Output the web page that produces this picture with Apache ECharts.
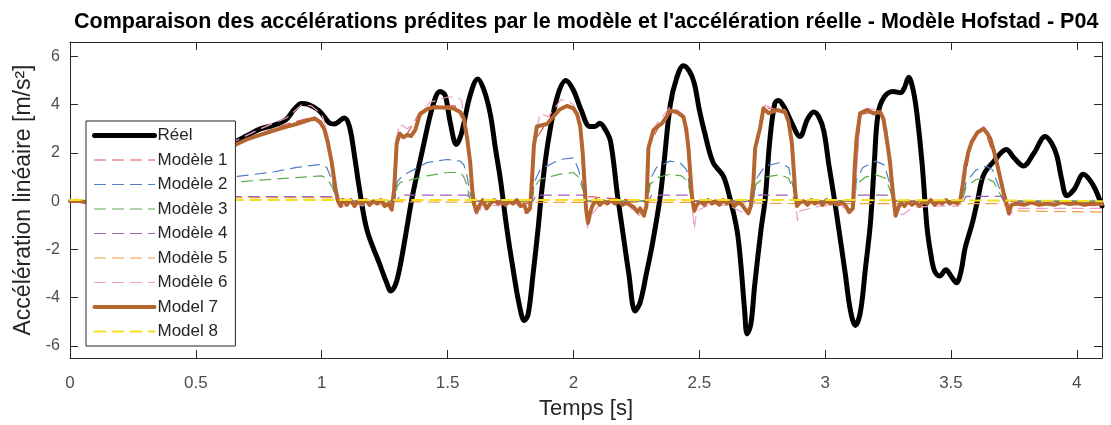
<!DOCTYPE html>
<html>
<head>
<meta charset="utf-8">
<script src="https://cdn.jsdelivr.net/npm/echarts@6/dist/echarts.min.js"></script>
<style>
  html, body { margin: 0; padding: 0; background: #fff; }
  #chart { width: 1111px; height: 425px; }
</style>
</head>
<body>
<div id="chart"></div>
<script>
// Time axis ticks (s) and acceleration axis ticks (m/s²)
const xTicks = [0, 0.5, 1, 1.5, 2, 2.5, 3, 3.5, 4];
const yTicks = [-6, -4, -2, 0, 2, 4, 6];

const seriesNames = ['Réel', 'Modèle 1', 'Modèle 2', 'Modèle 3', 'Modèle 4', 'Modèle 5', 'Modèle 6', 'Model 7', 'Model 8'];

// Measured acceleration [t, a]
const reel = [
  [0.08, 1.8], [0.2, 2.0], [0.35, 2.2], [0.5, 2.35], [0.6, 2.42], [0.657, 2.48], [0.70, 2.7], [0.756, 3.0],
  [0.81, 3.15], [0.86, 3.4], [0.89, 3.8], [0.92, 4.05], [0.95, 4.0], [0.99, 3.75], [1.03, 3.25], [1.05, 3.2],
  [1.09, 3.45], [1.11, 3.1], [1.13, 1.9], [1.15, 0.5], [1.18, -1.2], [1.23, -2.6], [1.255, -3.3], [1.275, -3.72],
  [1.295, -3.4], [1.315, -2.5], [1.34, -1.0], [1.36, 0.2], [1.40, 2.1], [1.44, 3.9], [1.47, 4.55], [1.49, 4.4],
  [1.51, 3.3], [1.535, 2.35], [1.555, 2.8], [1.59, 4.4], [1.62, 5.07], [1.645, 4.6], [1.67, 3.6], [1.69, 2.2],
  [1.71, 0.9], [1.735, -1.1], [1.76, -2.8], [1.785, -4.3], [1.805, -4.95], [1.82, -4.7], [1.84, -3.0], [1.86, -1.1],
  [1.875, 0.5], [1.90, 2.5], [1.935, 4.3], [1.97, 5.0], [2.0, 4.6], [2.03, 3.8], [2.065, 3.1], [2.085, 3.1],
  [2.105, 3.23], [2.125, 3.0], [2.147, 2.5], [2.175, 0.25], [2.195, -1.2], [2.22, -3.0], [2.245, -4.55], [2.265, -4.2],
  [2.29, -3.0], [2.315, -1.7], [2.345, 0.2], [2.36, 1.6], [2.385, 4.0], [2.41, 5.1], [2.437, 5.62], [2.46, 5.4],
  [2.48, 4.9], [2.50, 3.8], [2.52, 2.9], [2.555, 1.6], [2.595, 1.05], [2.62, 0.2], [2.65, -1.2], [2.665, -2.6],
  [2.68, -4.5], [2.69, -5.5], [2.705, -5.1], [2.72, -3.5], [2.745, -1.2], [2.762, 0.1], [2.78, 2.5], [2.80, 4.05],
  [2.815, 4.18], [2.84, 3.85], [2.865, 3.3], [2.90, 2.68], [2.93, 3.4], [2.955, 3.7], [2.975, 3.5], [2.995, 2.9],
  [3.015, 1.5], [3.035, 0.2], [3.055, -1.2], [3.08, -3.0], [3.10, -4.5], [3.12, -5.15], [3.14, -4.6], [3.16, -2.8],
  [3.18, -0.9], [3.195, 1.5], [3.21, 3.6], [3.235, 4.32], [3.27, 4.55], [3.30, 4.5], [3.315, 4.7], [3.332, 5.14],
  [3.35, 4.6], [3.365, 3.6], [3.385, 1.6], [3.405, -1.1], [3.42, -2.2], [3.435, -2.9], [3.455, -3.1], [3.48, -2.84],
  [3.50, -3.1], [3.522, -3.38], [3.54, -2.9], [3.556, -1.95], [3.585, -0.9], [3.605, 0.0], [3.63, 1.1], [3.67, 1.65],
  [3.72, 2.14], [3.75, 1.8], [3.788, 1.46], [3.83, 2.0], [3.874, 2.68], [3.90, 2.4], [3.921, 1.87], [3.94, 0.9],
  [3.96, 0.23], [3.99, 0.5], [4.026, 1.12], [4.05, 0.9], [4.073, 0.5], [4.1, -0.2]
];

const model1 = [
  [0, 0], [0.08, 0], [0.10, 1.8], [0.657, 2.4], [0.86, 3.2], [0.97, 3.5], [1.0, 3.3], [1.04, 1.6], [1.06, 0.1],
  [1.28, -0.1], [1.30, 2.5], [1.34, 2.8], [1.39, 3.7], [1.45, 3.95], [1.53, 3.95], [1.565, 3.5], [1.59, 1.5],
  [1.605, 0], [1.83, -0.1], [1.845, 2.5], [1.89, 3.2], [1.975, 4.0], [2.0, 3.9], [2.03, 3.0], [2.05, 0.2],
  [2.29, 0], [2.30, 2.3], [2.35, 3.3], [2.39, 3.8], [2.43, 3.6], [2.46, 2.2], [2.475, 0], [2.71, 0], [2.725, 2.3],
  [2.755, 3.9], [2.84, 3.75], [2.87, 2.4], [2.885, 0], [3.115, 0], [3.14, 3.6], [3.22, 3.75], [3.26, 1.6],
  [3.275, 0], [3.54, 0], [3.58, 2.4], [3.63, 3.05], [3.68, 1.6], [3.72, 0], [4.1, -0.2]
];

const model2 = [
  [0, 0], [0.08, 0], [0.10, 0.7], [0.3, 0.85], [0.5, 0.95], [0.657, 1.02], [0.8, 1.2], [0.9, 1.4], [1.0, 1.53],
  [1.02, 1.4], [1.04, 0.9], [1.055, 0.2], [1.065, 0.0], [1.29, 0.0], [1.30, 0.8], [1.32, 1.05], [1.365, 1.3],
  [1.418, 1.6], [1.497, 1.73], [1.55, 1.66], [1.565, 1.5], [1.577, 1.05], [1.59, 0.3], [1.60, 0], [1.835, 0],
  [1.845, 0.8], [1.868, 1.32], [1.947, 1.73], [2.0, 1.8], [2.02, 1.32], [2.04, 0.5], [2.05, 0], [2.295, 0],
  [2.305, 0.9], [2.33, 1.4], [2.384, 1.66], [2.424, 1.6], [2.45, 1.3], [2.465, 0.4], [2.47, 0], [2.715, 0],
  [2.725, 0.9], [2.76, 1.45], [2.82, 1.6], [2.855, 1.4], [2.875, 0.5], [2.885, 0], [3.115, 0], [3.125, 0.9],
  [3.15, 1.4], [3.2, 1.66], [3.235, 1.5], [3.255, 0.8], [3.27, 0], [3.545, 0], [3.56, 0.8], [3.60, 1.3],
  [3.64, 1.45], [3.665, 1.3], [3.69, 0.6], [3.71, 0], [4.1, 0]
];

const model3 = [
  [0, 0], [0.08, 0], [0.10, 0.5], [0.657, 0.79], [0.85, 0.95], [1.0, 1.05], [1.025, 0.9], [1.045, 0.5], [1.06, 0],
  [1.29, 0], [1.30, 0.6], [1.312, 0.78], [1.418, 1.05], [1.5, 1.19], [1.55, 1.19], [1.565, 1.0], [1.577, 0.64],
  [1.59, 0], [1.835, 0], [1.845, 0.6], [1.868, 0.91], [1.947, 1.12], [2.0, 1.19], [2.02, 1.0], [2.04, 0.4],
  [2.05, 0], [2.295, 0], [2.305, 0.7], [2.34, 1.0], [2.384, 1.12], [2.43, 1.05], [2.455, 0.8], [2.47, 0],
  [2.715, 0], [2.725, 0.7], [2.76, 1.0], [2.82, 1.1], [2.855, 0.95], [2.875, 0.4], [2.885, 0], [3.115, 0],
  [3.125, 0.7], [3.16, 1.0], [3.2, 1.1], [3.24, 0.95], [3.26, 0.4], [3.27, 0], [3.545, 0], [3.56, 0.6],
  [3.60, 0.9], [3.64, 0.95], [3.67, 0.8], [3.69, 0.4], [3.71, 0], [4.1, 0]
];

const model4 = [
  [0, 0], [0.08, 0], [0.10, 0.19], [1.04, 0.19], [1.06, 0], [1.30, 0], [1.31, 0.25], [1.58, 0.25], [1.59, 0],
  [1.84, 0], [1.85, 0.25], [2.04, 0.25], [2.05, 0], [2.30, 0], [2.31, 0.25], [2.46, 0.25], [2.47, 0],
  [2.72, 0], [2.73, 0.25], [2.87, 0.25], [2.88, 0], [3.12, 0], [3.13, 0.25], [3.26, 0.25], [3.27, 0],
  [3.55, 0], [3.56, 0.2], [3.70, 0.2], [3.71, 0], [4.1, -0.05]
];

const model5 = [
  [0, 0.03], [0.08, 0.03], [0.10, 0.15], [1.04, 0.15], [1.06, 0.0], [1.6, -0.05], [2.05, -0.05], [2.5, -0.05],
  [2.9, -0.1], [3.3, -0.1], [3.71, -0.1], [3.73, -0.4], [3.9, -0.42], [4.1, -0.45]
];

const model6 = [
  [0, 0], [0.08, 0], [0.10, 1.8], [0.657, 2.5], [0.756, 3.0], [0.86, 3.45], [0.92, 4.0], [0.96, 3.95], [1.0, 3.6],
  [1.02, 3.0], [1.04, 1.7], [1.06, 0.2], [1.08, -0.25], [1.12, 0.0], [1.16, -0.2], [1.2, 0.0], [1.24, -0.2],
  [1.28, -0.2], [1.295, 2.6], [1.31, 3.2], [1.34, 3.0], [1.39, 3.57], [1.43, 4.1], [1.50, 4.32], [1.54, 4.32],
  [1.555, 4.18], [1.57, 3.2], [1.59, 1.5], [1.605, -0.2], [1.62, -0.6], [1.64, -0.1], [1.7, -0.2], [1.76, 0.0],
  [1.81, -0.5], [1.83, -0.3], [1.845, 2.6], [1.868, 3.64], [1.9, 3.5], [1.95, 4.2], [1.975, 4.2], [2.0, 4.0],
  [2.03, 3.1], [2.045, 0.5], [2.055, -1.1], [2.07, -0.6], [2.1, -0.2], [2.16, 0.0], [2.22, -0.2], [2.26, -0.6],
  [2.29, -0.3], [2.30, 2.4], [2.33, 3.2], [2.384, 3.9], [2.41, 3.8], [2.44, 3.55], [2.46, 2.3], [2.472, -0.2],
  [2.48, -1.15], [2.49, -0.4], [2.55, -0.1], [2.62, -0.2], [2.69, -0.55], [2.71, -0.2], [2.725, 2.4],
  [2.762, 3.98], [2.8, 3.8], [2.84, 3.8], [2.866, 2.5], [2.882, 0.2], [2.89, -0.8], [2.9, -0.4], [2.98, -0.2],
  [3.06, -0.15], [3.1, -0.5], [3.115, -0.3], [3.14, 3.7], [3.17, 3.85], [3.22, 3.75], [3.245, 3.0],
  [3.265, 1.0], [3.28, -0.5], [3.31, -0.55], [3.35, -0.25], [3.45, -0.2], [3.53, -0.2], [3.55, 0.8],
  [3.58, 2.5], [3.63, 3.1], [3.66, 2.7], [3.69, 1.3], [3.715, -0.1], [3.73, -0.6], [3.76, -0.3], [3.9, -0.3],
  [4.1, -0.3]
];

const model7 = [
  [0, 0.0], [0.03, 0.02], [0.06, -0.03], [0.075, 0.0], [0.09, 0.8], [0.11, 1.7], [0.2, 1.9], [0.35, 2.05],
  [0.5, 2.2], [0.6, 2.28], [0.657, 2.34], [0.70, 2.55], [0.756, 2.75], [0.80, 2.9], [0.862, 3.09], [0.90, 3.2],
  [0.93, 3.3], [0.96, 3.4], [0.975, 3.42], [0.995, 3.25], [1.01, 3.0], [1.025, 2.4], [1.04, 1.6], [1.055, 0.5],
  [1.065, 0.0], [1.075, -0.2], [1.085, 0.05], [1.10, -0.15], [1.115, 0.05], [1.13, -0.2], [1.145, 0.0],
  [1.16, -0.1], [1.175, 0.05], [1.19, -0.15], [1.205, 0.0], [1.22, -0.1], [1.235, 0.05], [1.25, -0.2],
  [1.265, -0.1], [1.278, -0.35], [1.288, 0.5], [1.298, 2.4], [1.31, 2.8], [1.325, 2.65], [1.34, 2.75],
  [1.355, 2.7], [1.372, 2.96], [1.39, 3.6], [1.415, 3.8], [1.444, 3.9], [1.48, 3.88], [1.524, 3.84], [1.55, 3.7],
  [1.565, 3.4], [1.578, 2.6], [1.59, 1.6], [1.598, 0.5], [1.605, -0.1], [1.615, -0.45], [1.625, -0.2],
  [1.64, 0.05], [1.655, -0.3], [1.67, -0.1], [1.685, 0.05], [1.70, -0.1], [1.715, 0.0], [1.73, -0.15],
  [1.745, 0.0], [1.76, -0.1], [1.775, 0.05], [1.79, -0.2], [1.805, -0.15], [1.815, -0.45], [1.828, -0.3],
  [1.836, 1.0], [1.843, 2.3], [1.855, 3.1], [1.875, 3.15], [1.895, 3.2], [1.92, 3.5], [1.945, 3.8], [1.974, 3.95],
  [2.0, 3.85], [2.015, 3.6], [2.027, 3.1], [2.037, 2.0], [2.045, 0.6], [2.05, -0.3], [2.058, -0.9], [2.066, -0.5],
  [2.075, -0.2], [2.09, 0.05], [2.105, -0.15], [2.12, 0.0], [2.135, -0.1], [2.15, 0.05], [2.165, -0.1],
  [2.18, 0.0], [2.195, -0.15], [2.21, -0.05], [2.225, -0.15], [2.24, -0.25], [2.255, -0.45], [2.265, -0.3],
  [2.28, -0.6], [2.29, -0.2], [2.298, 2.2], [2.318, 2.95], [2.335, 3.1], [2.352, 3.23], [2.37, 3.5],
  [2.384, 3.75], [2.41, 3.7], [2.437, 3.5], [2.448, 3.0], [2.457, 2.2], [2.466, 0.9], [2.471, 0.2], [2.48, -0.4],
  [2.49, -0.15], [2.505, 0.0], [2.52, -0.15], [2.535, 0.05], [2.55, -0.1], [2.565, 0.0], [2.58, -0.15],
  [2.595, 0.05], [2.61, -0.1], [2.625, 0.0], [2.64, -0.2], [2.655, -0.05], [2.67, -0.15], [2.68, -0.3],
  [2.695, -0.5], [2.705, -0.2], [2.715, 0.8], [2.722, 2.2], [2.742, 3.05], [2.755, 3.85], [2.775, 3.65],
  [2.808, 3.78], [2.841, 3.7], [2.855, 3.3], [2.868, 2.4], [2.876, 1.2], [2.881, 0.4], [2.888, -0.2],
  [2.90, -0.05], [2.915, 0.0], [2.93, -0.15], [2.945, 0.05], [2.96, -0.1], [2.975, 0.0], [2.99, -0.15],
  [3.005, 0.05], [3.02, -0.1], [3.035, 0.0], [3.05, -0.15], [3.065, -0.05], [3.08, -0.15], [3.095, -0.45],
  [3.11, -0.3], [3.118, 1.5], [3.125, 2.6], [3.139, 3.64], [3.166, 3.78], [3.192, 3.64], [3.219, 3.7],
  [3.232, 3.4], [3.239, 2.96], [3.25, 2.2], [3.258, 1.6], [3.265, 0.8], [3.272, 0.1], [3.28, -0.6], [3.29, -0.3],
  [3.30, -0.05], [3.315, -0.2], [3.33, 0.0], [3.345, -0.15], [3.36, -0.05], [3.375, -0.2], [3.39, 0.0],
  [3.405, -0.1], [3.42, 0.05], [3.435, -0.15], [3.45, 0.0], [3.465, -0.1], [3.48, 0.05], [3.495, -0.1],
  [3.51, 0.0], [3.525, -0.1], [3.537, 0.05], [3.547, 0.7], [3.556, 1.4], [3.568, 2.0], [3.582, 2.45],
  [3.605, 2.85], [3.629, 3.0], [3.645, 2.8], [3.656, 2.6], [3.67, 2.1], [3.682, 1.6], [3.695, 1.0],
  [3.709, 0.35], [3.72, -0.05], [3.73, -0.5], [3.74, -0.15], [3.76, -0.1], [3.79, -0.15], [3.82, -0.05],
  [3.85, -0.15], [3.88, -0.1], [3.91, -0.15], [3.94, -0.05], [3.97, -0.12], [4.0, -0.08], [4.03, -0.15],
  [4.06, -0.1], [4.1, -0.12]
];

const model8 = [
  [0, 0.05], [1.0, 0.05], [2.0, 0.05], [3.0, 0.05], [3.72, 0.03], [4.1, 0.0]
];

const seriesData = [reel, model1, model2, model3, model4, model5, model6, model7, model8];
const colors = ['#000000', '#D9534F', '#4F7FC0', '#5DAA4A', '#9A62B0', '#F0A040', '#EE9CCB', '#B5652F', '#F5E01E'];
const widths = [5, 1.2, 1.2, 1.2, 1.2, 1.2, 1.2, 4, 2];
const dashed = [false, true, true, true, true, true, true, false, true];

const chart = echarts.init(document.getElementById('chart'), null, { renderer: 'canvas' });

const font = 'Liberation Sans, Arial, Helvetica, sans-serif';
const axisColor = '#262626';

const series = seriesNames.map((name, i) => ({
  name: name,
  type: 'line',
  data: seriesData[i],
  xAxisIndex: 0,
  yAxisIndex: 0,
  showSymbol: false,
  symbol: 'none',
  smooth: i === 0 ? 0.35 : false,
  animation: false,
  lineStyle: {
    color: colors[i],
    width: widths[i],
    type: dashed[i] ? [11, 7] : 'solid',
    cap: 'round',
    join: 'round'
  },
  itemStyle: { color: colors[i] },
  z: 2 + i
}));

const xMin = xTicks[0], xMax = 4.1;
const yMin = -6.5, yMax = 6.6;

const option = {
  animation: false,
  backgroundColor: '#ffffff',
  title: {
    text: 'Comparaison des accélérations prédites par le modèle et l\'accélération réelle - Modèle Hofstad - P04',
    left: 69,
    top: 6,
    textStyle: { fontFamily: font, fontSize: 21.5, fontWeight: 'bold', color: '#000' }
  },
  grid: { left: 70, right: 9, top: 42, bottom: 64, containLabel: false },
  legend: {
    orient: 'vertical',
    left: 86,
    top: 121,
    padding: [6, 8, 6, 6],
    itemWidth: 60,
    itemHeight: 16,
    itemGap: 7.5,
    backgroundColor: '#ffffff',
    borderColor: axisColor,
    borderWidth: 1,
    borderRadius: 0,
    lineStyle: { width: 'inherit' },
    itemStyle: { color: 'rgba(0,0,0,0)', borderWidth: 0, opacity: 0 },
    textStyle: { fontFamily: font, fontSize: 17, color: '#262626', padding: [0, 0, 0, -2], lineHeight: 16 },
    data: seriesNames,
    selectedMode: false,
    z: 20
  },
  xAxis: [
    {
      type: 'value', min: xMin, max: xMax, interval: 0.5, position: 'bottom',
      name: 'Temps [s]', nameLocation: 'middle', nameGap: 40,
      nameTextStyle: { fontFamily: font, fontSize: 22, color: '#262626' },
      axisLine: { show: true, onZero: false, lineStyle: { color: axisColor, width: 1 } },
      axisTick: { show: true, inside: true, length: 8, lineStyle: { color: axisColor } },
      axisLabel: { show: true, fontFamily: font, fontSize: 17, color: '#4d4d4d', margin: 17, showMaxLabel: false,
        formatter: v => (xTicks.indexOf(v) >= 0 ? String(v) : '') },
      splitLine: { show: false }
    },
    {
      type: 'value', min: xMin, max: xMax, interval: 0.5, position: 'top',
      axisLine: { show: true, onZero: false, lineStyle: { color: axisColor, width: 1 } },
      axisTick: { show: true, inside: true, length: 8, lineStyle: { color: axisColor } },
      axisLabel: { show: false },
      splitLine: { show: false }
    }
  ],
  yAxis: [
    {
      type: 'value', min: yMin, max: yMax, splitNumber: 6, minInterval: 2, maxInterval: 2, position: 'left',
      name: 'Accélération linéaire [m/s²]', nameLocation: 'middle', nameGap: 35,
      nameTextStyle: { fontFamily: font, fontSize: 23, color: '#262626' },
      axisLine: { show: true, onZero: false, lineStyle: { color: axisColor, width: 1 } },
      axisTick: { show: true, inside: true, length: 8, lineStyle: { color: axisColor } },
      axisLabel: { show: true, fontFamily: font, fontSize: 16, color: '#4d4d4d', margin: 10,
        showMinLabel: false, showMaxLabel: false,
        formatter: v => (yTicks.indexOf(v) >= 0 ? String(v) : '') },
      splitLine: { show: false }
    },
    {
      type: 'value', min: yMin, max: yMax, splitNumber: 6, minInterval: 2, maxInterval: 2, position: 'right',
      axisLine: { show: true, onZero: false, lineStyle: { color: axisColor, width: 1 } },
      axisTick: { show: true, inside: true, length: 8, lineStyle: { color: axisColor } },
      axisLabel: { show: false },
      splitLine: { show: false }
    }
  ],
  series: series
};

chart.setOption(option);
</script>
</body>
</html>
